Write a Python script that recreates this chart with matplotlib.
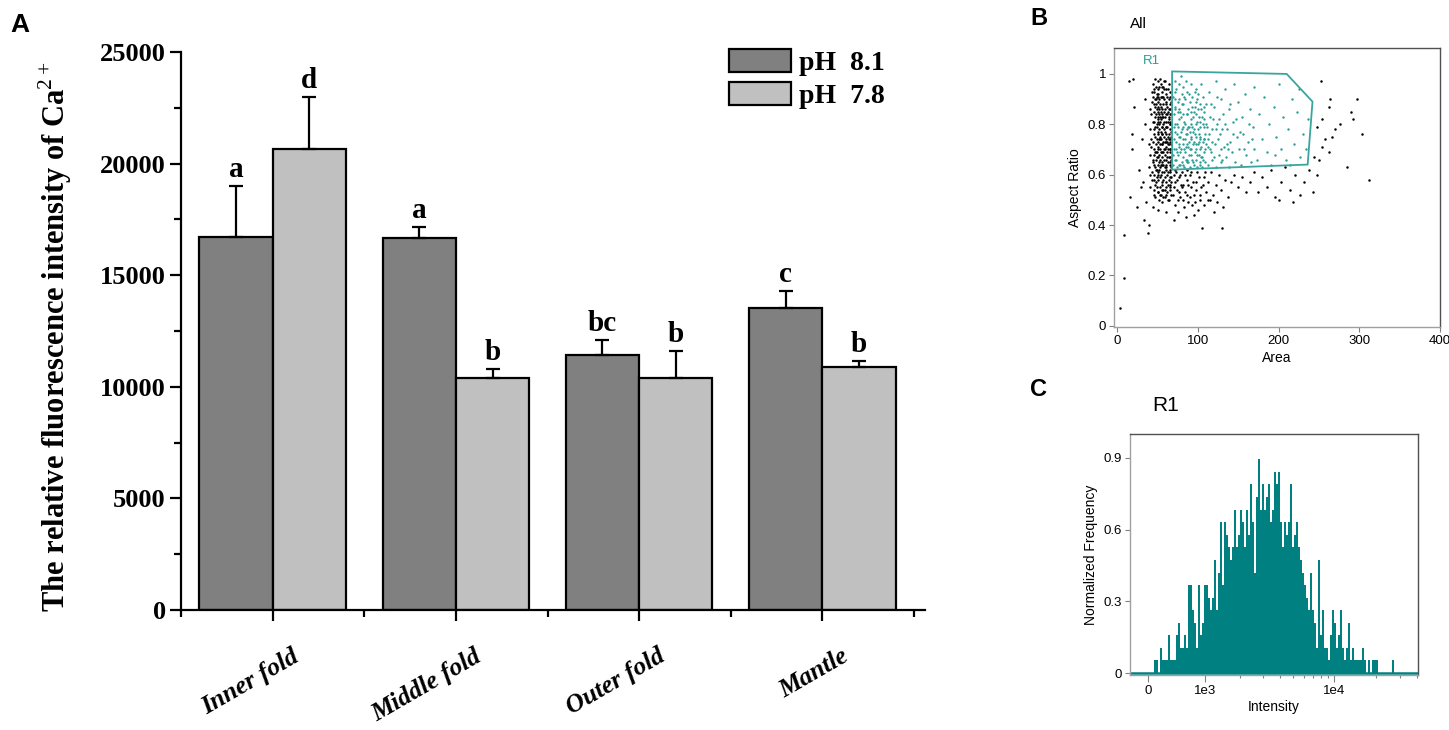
import numpy as np
import matplotlib
matplotlib.use("Agg")
import matplotlib.pyplot as plt
from matplotlib.patches import Patch, Polygon
from matplotlib.transforms import blended_transform_factory

plt.rcParams["font.family"] = ["Liberation Sans", "DejaVu Sans"]
plt.rcParams["mathtext.fontset"] = "custom"
plt.rcParams["mathtext.rm"] = "Liberation Serif"
plt.rcParams["mathtext.bf"] = "Liberation Serif:bold"

# ---- panel A: bar data ----
categories = ["Inner fold", "Middle fold", "Outer fold", "Mantle"]
ph81_mean = [16730, 16680, 11420, 13520]
ph81_sd = [2270, 490, 680, 770]
ph78_mean = [20640, 10410, 10410, 10900]
ph78_sd = [2340, 390, 1210, 260]
ph81_letters = ["a", "a", "bc", "c"]
ph78_letters = ["d", "b", "b", "b"]
series_labels = ["pH  8.1", "pH  7.8"]

# ---- panel B: Area vs Aspect Ratio (events) ----
outside_gate = [
    (41, 0.55), (39, 0.63), (42, 0.71), (40, 0.78), (41, 0.86), (43, 0.93),
    (43, 0.58), (44, 0.66), (42, 0.74), (44, 0.81), (43, 0.89), (45, 0.52), (44, 0.96),
    (45, 0.54), (46, 0.60), (44, 0.65), (46, 0.70), (45, 0.76), (47, 0.83), (46, 0.88),
    (45, 0.94), (47, 0.98), (47, 0.51), (48, 0.57), (47, 0.63), (49, 0.67), (48, 0.72),
    (47, 0.75), (49, 0.79), (48, 0.84), (47, 0.87), (49, 0.91), (48, 0.95),
    (50, 0.53), (49, 0.59), (51, 0.61), (50, 0.64), (49, 0.69), (51, 0.73), (50, 0.77),
    (49, 0.80), (51, 0.82), (50, 0.85), (51, 0.89), (49, 0.92), (50, 0.97),
    (52, 0.50), (53, 0.55), (51, 0.58), (52, 0.62), (53, 0.66), (52, 0.68), (51, 0.71),
    (53, 0.74), (52, 0.78), (53, 0.81), (51, 0.83), (52, 0.86), (53, 0.88), (52, 0.90),
    (51, 0.94), (53, 0.98), (54, 0.52), (55, 0.56), (54, 0.60), (53, 0.63), (55, 0.65),
    (54, 0.69), (55, 0.72), (53, 0.75), (54, 0.77), (56, 0.79), (54, 0.82), (55, 0.84),
    (54, 0.87), (56, 0.91), (55, 0.93), (54, 0.96), (56, 0.49), (57, 0.54), (56, 0.57),
    (58, 0.61), (57, 0.64), (56, 0.67), (58, 0.70), (57, 0.73), (56, 0.76), (58, 0.78),
    (57, 0.80), (56, 0.83), (58, 0.85), (57, 0.88), (58, 0.90), (57, 0.95),
    (59, 0.51), (60, 0.55), (59, 0.59), (61, 0.62), (60, 0.66), (59, 0.68), (61, 0.71),
    (60, 0.74), (59, 0.77), (61, 0.81), (60, 0.84), (59, 0.86), (61, 0.89), (60, 0.92),
    (59, 0.97), (62, 0.53), (63, 0.56), (62, 0.60), (61, 0.63), (63, 0.65), (62, 0.69),
    (64, 0.72), (63, 0.75), (62, 0.79), (64, 0.82), (63, 0.85), (62, 0.87), (64, 0.90),
    (63, 0.94), (64, 0.50), (65, 0.54), (64, 0.58), (66, 0.61), (65, 0.64), (64, 0.67),
    (66, 0.70), (65, 0.73), (64, 0.76), (66, 0.78), (65, 0.80), (64, 0.83), (66, 0.88),
    (65, 0.91), (64, 0.96), (67, 0.52), (66, 0.55), (67, 0.59), (66, 0.62), (67, 0.66),
    (66, 0.69), (67, 0.72), (66, 0.74), (67, 0.77), (66, 0.81), (67, 0.84), (66, 0.86),
    (67, 0.89), (66, 0.93),
    (46, 0.78), (48, 0.66), (50, 0.70), (52, 0.74), (53, 0.70), (55, 0.79), (57, 0.83),
    (59, 0.73), (61, 0.76), (63, 0.70), (65, 0.67), (47, 0.69), (49, 0.86), (51, 0.91),
    (53, 0.83), (55, 0.61), (57, 0.58), (59, 0.63), (61, 0.57), (63, 0.61), (65, 0.59),
    (58, 0.66), (60, 0.79), (62, 0.73), (54, 0.64), (56, 0.72), (50, 0.60), (48, 0.62),
    (52, 0.84), (58, 0.94),
    (43, 0.61), (45, 0.68), (44, 0.73), (46, 0.81), (45, 0.85), (47, 0.90), (46, 0.64),
    (48, 0.69), (47, 0.79), (49, 0.74), (48, 0.88), (50, 0.67), (49, 0.62), (51, 0.76),
    (50, 0.81), (52, 0.65), (51, 0.87), (53, 0.72), (52, 0.80), (54, 0.74), (53, 0.59),
    (55, 0.69), (54, 0.85), (56, 0.64), (55, 0.76), (57, 0.69), (56, 0.86), (58, 0.75),
    (57, 0.91), (59, 0.70), (58, 0.81), (60, 0.64), (59, 0.83), (61, 0.73), (60, 0.88),
    (62, 0.67), (61, 0.79), (63, 0.72), (62, 0.84), (64, 0.74), (63, 0.81), (65, 0.70),
    (64, 0.86), (66, 0.65), (65, 0.84), (67, 0.75), (66, 0.80), (67, 0.63), (45, 0.58),
    (47, 0.56), (49, 0.55), (51, 0.53), (53, 0.52), (55, 0.54), (57, 0.51), (59, 0.54),
    (61, 0.52), (63, 0.50), (65, 0.56), (67, 0.57), (44, 0.91), (46, 0.93), (48, 0.90),
    (50, 0.92), (52, 0.95), (54, 0.91), (56, 0.95), (58, 0.97), (60, 0.94), (62, 0.91),
    (42, 0.84), (41, 0.68), (40, 0.60), (39, 0.72),
    # below the gate
    (70, 0.60), (72, 0.57), (74, 0.54), (76, 0.59), (78, 0.51), (80, 0.61), (82, 0.56),
    (84, 0.53), (86, 0.58), (88, 0.49), (90, 0.60), (92, 0.55), (95, 0.52), (97, 0.57),
    (99, 0.61), (102, 0.50), (104, 0.55), (107, 0.59), (110, 0.53), (113, 0.57),
    (116, 0.61), (119, 0.52), (122, 0.56), (126, 0.60), (129, 0.54), (133, 0.58),
    (137, 0.51), (141, 0.57), (145, 0.60), (150, 0.55), (155, 0.59), (160, 0.53),
    (69, 0.52), (71, 0.48), (73, 0.61), (75, 0.50), (79, 0.56), (83, 0.47), (87, 0.62),
    (93, 0.48), (100, 0.46), (108, 0.48), (115, 0.50), (124, 0.49), (131, 0.47),
    (70, 0.55), (72, 0.62), (74, 0.58), (76, 0.53), (78, 0.60), (80, 0.55), (82, 0.50),
    (84, 0.60), (86, 0.52), (88, 0.56), (90, 0.51), (92, 0.61), (94, 0.57), (96, 0.49),
    (98, 0.54), (101, 0.59), (103, 0.52), (106, 0.56), (109, 0.61), (112, 0.50),
    (165, 0.57), (170, 0.61), (174, 0.53), (180, 0.59), (185, 0.55), (190, 0.62),
    (196, 0.51), (203, 0.57), (208, 0.63), (214, 0.54), (220, 0.60), (226, 0.52),
    (232, 0.57), (238, 0.62), (243, 0.53), (248, 0.60), (200, 0.50), (218, 0.49),
    # right side
    (250, 0.66), (254, 0.71), (257, 0.74), (262, 0.69), (266, 0.75), (264, 0.90),
    (270, 0.78), (276, 0.80), (285, 0.63), (290, 0.85), (292, 0.82), (297, 0.90),
    (303, 0.76), (312, 0.58), (254, 0.82), (252, 0.97), (262, 0.87), (247, 0.79),
    (244, 0.67),
    # left and low
    (4, 0.07), (9, 0.36), (9, 0.19), (15, 0.97), (20, 0.98), (21, 0.87), (18, 0.76),
    (18, 0.70), (16, 0.51), (25, 0.47), (33, 0.42), (38, 0.37), (39, 0.40), (29, 0.55),
    (27, 0.62), (31, 0.74), (34, 0.80), (35, 0.90), (32, 0.57), (36, 0.49), (85, 0.43),
    (105, 0.39), (130, 0.39), (120, 0.45), (75, 0.45), (95, 0.44), (60, 0.45),
    (50, 0.46), (44, 0.47), (70, 0.42),
]

inside_gate = [
    (69, 0.64), (70, 0.70), (71, 0.77), (70, 0.84), (69, 0.91), (71, 0.97),
    (72, 0.66), (73, 0.73), (74, 0.80), (72, 0.87), (73, 0.94), (74, 0.63),
    (75, 0.68), (76, 0.75), (77, 0.82), (75, 0.89), (77, 0.96), (76, 0.71),
    (78, 0.64), (79, 0.70), (80, 0.78), (78, 0.85), (80, 0.92), (79, 0.99),
    (81, 0.67), (82, 0.74), (83, 0.81), (82, 0.88), (81, 0.95), (83, 0.63),
    (84, 0.69), (85, 0.76), (86, 0.84), (84, 0.90), (86, 0.72), (85, 0.97),
    (87, 0.65), (88, 0.71), (89, 0.79), (88, 0.86), (87, 0.93), (89, 0.68),
    (90, 0.63), (91, 0.74), (92, 0.82), (90, 0.89), (92, 0.96), (91, 0.70),
    (93, 0.66), (94, 0.77), (95, 0.85), (94, 0.72), (93, 0.91), (95, 0.64),
    (96, 0.69), (97, 0.80), (98, 0.75), (96, 0.87), (98, 0.94), (97, 0.66),
    (99, 0.63), (100, 0.72), (101, 0.83), (100, 0.78), (99, 0.90), (101, 0.68),
    (102, 0.65), (103, 0.75), (104, 0.86), (103, 0.70), (102, 0.81), (104, 0.96),
    (105, 0.67), (106, 0.73), (107, 0.79), (106, 0.91), (105, 0.63), (107, 0.85),
    (108, 0.69), (109, 0.76), (110, 0.88), (109, 0.65), (108, 0.82), (110, 0.72),
    (70, 0.74), (72, 0.80), (74, 0.69), (76, 0.86), (78, 0.75), (80, 0.65), (82, 0.84),
    (84, 0.74), (86, 0.66), (88, 0.79), (90, 0.77), (92, 0.68), (94, 0.83), (96, 0.76),
    (98, 0.70), (100, 0.86), (102, 0.74), (104, 0.67), (106, 0.80), (108, 0.74),
    (71, 0.90), (73, 0.66), (75, 0.79), (77, 0.72), (79, 0.83), (81, 0.79), (83, 0.70),
    (85, 0.66), (87, 0.76), (89, 0.73), (91, 0.85), (93, 0.79), (95, 0.73), (97, 0.89),
    (99, 0.81), (101, 0.76), (103, 0.64),
    (69, 0.68), (70, 0.79), (71, 0.86), (72, 0.93), (73, 0.70), (74, 0.76), (75, 0.85),
    (76, 0.64), (77, 0.90), (78, 0.69), (79, 0.77), (80, 0.88), (81, 0.72), (82, 0.64),
    (83, 0.91), (84, 0.80), (85, 0.71), (86, 0.78), (87, 0.84), (88, 0.65), (89, 0.92),
    (90, 0.70), (91, 0.80), (92, 0.75), (93, 0.87), (94, 0.65), (95, 0.78), (96, 0.93),
    (97, 0.72), (98, 0.84), (99, 0.68), (100, 0.92), (101, 0.73), (102, 0.88),
    (103, 0.79), (104, 0.71), (105, 0.83), (106, 0.66), (107, 0.74), (108, 0.87),
    (109, 0.70), (110, 0.80), (112, 0.71), (114, 0.76), (116, 0.88), (118, 0.73),
    (120, 0.67), (122, 0.78), (124, 0.91), (126, 0.82), (128, 0.70), (130, 0.66),
    (133, 0.80), (136, 0.72), (140, 0.88), (147, 0.82), (152, 0.77), (157, 0.70),
    (163, 0.80), (167, 0.74),
    (112, 0.64), (113, 0.74), (115, 0.83), (114, 0.93), (116, 0.69), (117, 0.78),
    (118, 0.66), (120, 0.87), (121, 0.72), (122, 0.97), (123, 0.63), (124, 0.80),
    (126, 0.68), (127, 0.76), (128, 0.90), (129, 0.65), (131, 0.84), (132, 0.71),
    (134, 0.94), (135, 0.67), (136, 0.78), (138, 0.63), (139, 0.86), (140, 0.73),
    (142, 0.69), (144, 0.81), (145, 0.96), (146, 0.65), (148, 0.75), (150, 0.89),
    (151, 0.70), (153, 0.64), (155, 0.83), (156, 0.76), (158, 0.92), (160, 0.68),
    (162, 0.73), (164, 0.86), (166, 0.65), (168, 0.79), (170, 0.95), (169, 0.70),
    (111, 0.79), (115, 0.70), (119, 0.82), (125, 0.74), (130, 0.78), (137, 0.70),
    (143, 0.76),
    (173, 0.66), (176, 0.84), (179, 0.74), (182, 0.91), (185, 0.69), (188, 0.80),
    (191, 0.64), (194, 0.87), (197, 0.75), (200, 0.96), (203, 0.70), (206, 0.83),
    (209, 0.66), (212, 0.78), (216, 0.90), (219, 0.72), (223, 0.85), (227, 0.67),
    (230, 0.76), (234, 0.70), (237, 0.82), (225, 0.94), (214, 0.64), (196, 0.68),
]

gate_r1 = [(68, 0.62), (68, 1.01), (210, 1.0), (242, 0.89), (236, 0.64)]

# ---- panel C: R1 intensity histogram (normalized frequency per bin) ----
hist_heights = [
    0, 0.053, 0.053, 0, 0.105, 0.053, 0.053, 0.053, 0.158, 0.053,
    0.053, 0.053, 0.158, 0.21, 0.105, 0.105, 0.158, 0.105, 0.368, 0.368,
    0.263, 0.21, 0.105, 0.368, 0.158, 0.21, 0.368, 0.368, 0.316, 0.263,
    0.316, 0.474, 0.263, 0.42, 0.632, 0.368, 0.632, 0.579, 0.526, 0.474,
    0.526, 0.684, 0.526, 0.579, 0.684, 0.632, 0.526, 0.684, 0.579, 0.79,
    0.632, 0.42, 0.737, 0.895, 0.684, 0.79, 0.684, 0.737, 0.79, 0.632,
    0.684, 0.842, 0.79, 0.842, 0.632, 0.526, 0.632, 0.579, 0.632, 0.79,
    0.526, 0.579, 0.632, 0.526, 0.474, 0.42, 0.368, 0.316, 0.263, 0.42,
    0.263, 0.21, 0.105, 0.474, 0.158, 0.263, 0.105, 0.105, 0.053, 0.158,
    0.263, 0.21, 0.105, 0.158, 0.263, 0.105, 0.053, 0.105, 0.21, 0.053,
    0.105, 0.053, 0.053, 0.053, 0.053, 0.105, 0.053, 0, 0.053, 0,
    0.053, 0.053, 0.053, 0, 0, 0, 0, 0, 0, 0,
    0.053,
]

W, H = 1449, 730
fig = plt.figure(figsize=(W / 100, H / 100), dpi=100)

SERIF = dict(family="Liberation Serif", fontweight="bold")
DARK, LIGHT = "#808080", "#c0c0c0"
TEAL = "#008080"

# ================= A =================
axA = fig.add_axes([181 / W, 1 - 610 / H, (925 - 181) / W, 558 / H])
x = np.arange(1, len(categories) + 1)
w = 0.4
zeros = np.zeros(len(categories))
axA.bar(x - w / 2, ph81_mean, w, color=DARK, edgecolor="black", linewidth=1.6, zorder=2)
axA.bar(x + w / 2, ph78_mean, w, color=LIGHT, edgecolor="black", linewidth=1.6, zorder=2)
axA.errorbar(x - w / 2, ph81_mean, yerr=[zeros, ph81_sd], fmt="none", ecolor="black",
             elinewidth=1.6, capsize=5, capthick=1.6, zorder=3)
axA.errorbar(x + w / 2, ph78_mean, yerr=[zeros, ph78_sd], fmt="none", ecolor="black",
             elinewidth=1.6, capsize=5, capthick=1.6, zorder=3)

for xs, means, sds, letters in [(x - w / 2, ph81_mean, ph81_sd, ph81_letters),
                                (x + w / 2, ph78_mean, ph78_sd, ph78_letters)]:
    for xi, m, s, lt in zip(xs, means, sds, letters):
        axA.annotate(lt, (xi, m + s), xytext=(0, 2), textcoords="offset points",
                     ha="center", va="bottom", fontsize=21, **SERIF)

axA.set_xlim(0.5, 4.56)
axA.set_ylim(0, 25000)
for side in ["top", "right"]:
    axA.spines[side].set_visible(False)
for side in ["left", "bottom"]:
    axA.spines[side].set_linewidth(1.6)

yt = np.arange(0, 25001, 5000)
axA.set_yticks(yt, [str(v) for v in yt], fontsize=19, **SERIF)
axA.set_yticks(np.arange(2500, 25000, 5000), minor=True)
axA.set_xticks(x, [""] * len(x))
axA.set_xticks(np.arange(0.5, 4.6, 1.0), minor=True)
axA.tick_params(which="major", direction="out", length=8, width=1.6, pad=3)
axA.tick_params(which="minor", direction="out", length=5, width=1.6)

lab_tr = blended_transform_factory(axA.transData, axA.transAxes)
for xi, cat in zip(x, categories):
    axA.text(xi + 0.1, -0.062, cat, transform=lab_tr, rotation=30,
             rotation_mode="anchor", ha="right", va="top", fontsize=18.5,
             family="Liberation Serif", fontweight="bold", fontstyle="italic")

fig.text(55 / W, 1 - 612 / H, r"The relative fluorescence intensity of Ca$^{\mathrm{2+}}$",
         rotation=90, ha="center", va="bottom", fontsize=22, **SERIF)

handles = [Patch(facecolor=DARK, edgecolor="black", linewidth=1.6),
           Patch(facecolor=LIGHT, edgecolor="black", linewidth=1.6)]
fig.legend(handles, series_labels, loc="upper left",
           bbox_to_anchor=(729 / W, 1 - 49 / H), frameon=False, borderpad=0,
           borderaxespad=0, handlelength=2.23, handleheight=0.9, handletextpad=0.3,
           labelspacing=0.2, prop=dict(family="Liberation Serif", weight="bold", size=20))

fig.text(10 / W, 1 - 32 / H, "A", fontsize=19, fontweight="bold", family="Liberation Sans")
fig.text(1030 / W, 1 - 25 / H, "B", fontsize=17, fontweight="bold", family="Liberation Sans")
fig.text(1030 / W, 1 - 396 / H, "C", fontsize=17, fontweight="bold", family="Liberation Sans")


def style_flow_axes(ax):
    for side in ["left", "bottom"]:
        ax.spines[side].set_color("#a0a0a0")
        ax.spines[side].set_linewidth(1.0)
    for side in ["top", "right"]:
        ax.spines[side].set_color("#505050")
        ax.spines[side].set_linewidth(1.0)
    ax.tick_params(which="both", direction="out", color="#808080", labelsize=9.5,
                   pad=2, width=0.8)
    ax.tick_params(which="major", length=3.5)
    ax.tick_params(which="minor", length=2.5)


# ================= B =================
axB = fig.add_axes([1114 / W, 1 - 327 / H, 326 / W, 279 / H])
ox, oy = zip(*outside_gate)
ix, iy = zip(*inside_gate)
axB.scatter(ox, oy, s=3.2, c="black", linewidths=0)
axB.scatter(ix, iy, s=3.0, c="#2a9d96", linewidths=0)
axB.add_patch(Polygon(gate_r1, closed=True, fill=False, edgecolor="#3aa59d", linewidth=1.3))
axB.text(42, 1.05, "R1", color="#2a9d96", fontsize=9.5, ha="center", va="center")
axB.set_xlim(-4, 400)
axB.set_ylim(-0.005, 1.103)
axB.set_xticks([0, 100, 200, 300, 400], ["0", "100", "200", "300", "400"])
axB.set_yticks([0, 0.2, 0.4, 0.6, 0.8, 1.0], ["0", "0.2", "0.4", "0.6", "0.8", "1"])
style_flow_axes(axB)
axB.set_xlabel("Area", fontsize=10, labelpad=3)
axB.set_ylabel("Aspect Ratio", fontsize=10, labelpad=4)
axB.text(0.05, 1.085, "All", transform=axB.transAxes, fontsize=11, va="center")

# ================= C =================
C0 = 909.0


def fwd(v):
    return np.arcsinh(np.asarray(v, dtype=float) / C0)


def inv(u):
    return C0 * np.sinh(np.asarray(u, dtype=float))


axC = fig.add_axes([1130 / W, 1 - 675 / H, 288 / W, 241 / H])
axC.set_xscale("function", functions=(fwd, inv))
u0, du = 0.0632, 0.03328
edges = inv(u0 + du * np.arange(len(hist_heights) + 1))
axC.stairs(hist_heights, edges, fill=True, color=TEAL, linewidth=0)
axC.axhline(0, color=TEAL, linewidth=1.8)
axC.set_xlim(-280, 40500)
axC.set_ylim(-0.008, 1.0)
axC.set_xticks([0, 1e3, 1e4], ["0", "1e3", "1e4"])
axC.set_xticks([2e3, 3e3, 4e3, 5e3, 6e3, 7e3, 8e3, 9e3, 2e4, 3e4, 4e4], minor=True)
axC.set_yticks([0, 0.3, 0.6, 0.9], ["0", "0.3", "0.6", "0.9"])
style_flow_axes(axC)
axC.tick_params(axis="x", which="major", length=5)
axC.set_xlabel("Intensity", fontsize=10, labelpad=2)
axC.set_ylabel("Normalized Frequency", fontsize=10, labelpad=4)
axC.text(0.076, 1.12, "R1", transform=axC.transAxes, fontsize=15, va="center")

fig.savefig("out.png", dpi=100)
